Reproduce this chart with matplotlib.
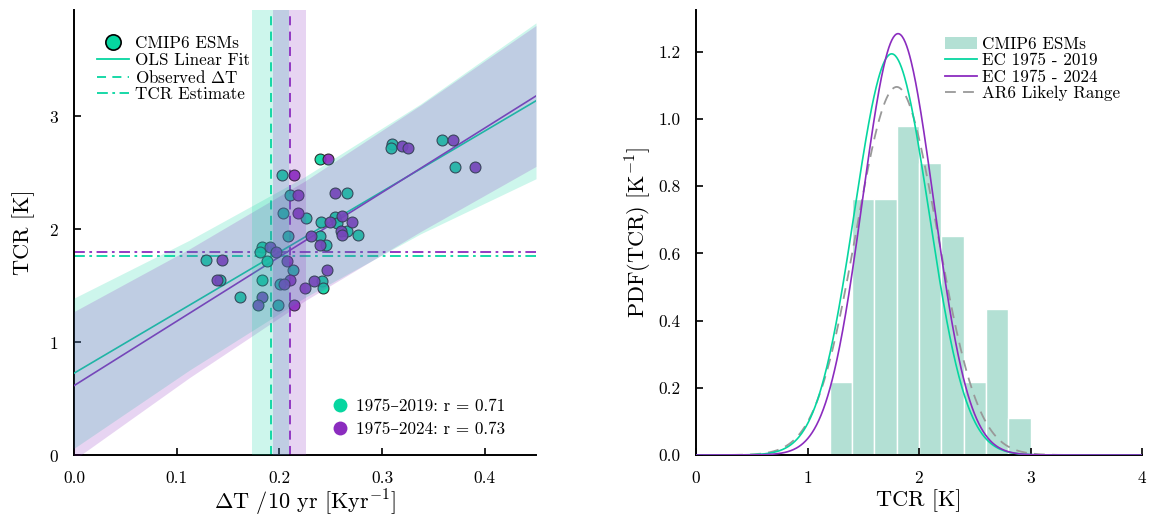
import numpy as np
import matplotlib
matplotlib.use("Agg")
import matplotlib.pyplot as plt
from matplotlib.lines import Line2D
from matplotlib.patches import Patch

plt.rcParams['font.family'] = ['cmr10', 'DejaVu Serif']
plt.rcParams['mathtext.fontset'] = 'cm'
plt.rcParams['axes.formatter.use_mathtext'] = True
plt.rcParams['axes.unicode_minus'] = False

GREEN = "#06d6a0"
PURPLE = "#8b2cbf"
HIST_C = "#b3e0d4"
GRAY = "#999999"

# ---------------- data: left panel (scatter) ----------------
dT_2019 = [0.240, 0.203, 0.310, 0.309, 0.358, 0.371, 0.266, 0.2105, 0.204, 0.226,
           0.241, 0.254, 0.256, 0.266, 0.277, 0.240, 0.208, 0.245, 0.1835, 0.181,
           0.188, 0.129, 0.142, 0.183, 0.2135, 0.201, 0.242, 0.243, 0.162, 0.199]
tcr_2019 = [2.62, 2.48, 2.75, 2.72, 2.79, 2.55, 2.32, 2.30, 2.14, 2.10,
            2.06, 2.11, 2.05, 1.98, 1.95, 1.94, 1.94, 1.86, 1.84, 1.80,
            1.72, 1.73, 1.55, 1.55, 1.64, 1.51, 1.54, 1.48, 1.40, 1.33]

dT_2024 = [0.2476, 0.2144, 0.3194, 0.3255, 0.3687, 0.3902, 0.2547, 0.2186, 0.218, 0.2609,
           0.2489, 0.2706, 0.2599, 0.2615, 0.2307, 0.2398, 0.1913, 0.1969, 0.2079, 0.1446,
           0.1397, 0.2105, 0.2469, 0.205, 0.2342, 0.2251, 0.1835, 0.1797, 0.2138]
tcr_2024 = [2.62, 2.48, 2.74, 2.72, 2.79, 2.55, 2.32, 2.30, 2.14, 2.12,
            2.06, 2.06, 1.98, 1.95, 1.94, 1.86, 1.84, 1.80, 1.72, 1.73,
            1.55, 1.55, 1.64, 1.51, 1.54, 1.48, 1.40, 1.33, 1.33]

# OLS fits (intercept, slope) and prediction band half-widths
fit_2019 = (0.724, 5.36)
fit_2024 = (0.614, 5.70)
band_x = [0.0, 0.1125, 0.225, 0.3375, 0.45]
band_half_2019 = [0.665, 0.575, 0.535, 0.575, 0.69]
band_half_2024 = [0.656, 0.570, 0.530, 0.560, 0.624]

# observed warming rate (centre, half-width) and TCR estimates
obs_dT_2019 = (0.1915, 0.0183)
obs_dT_2024 = (0.2100, 0.0162)
tcr_est_2019 = 1.76
tcr_est_2024 = 1.80

r_2019 = 0.71
r_2024 = 0.73

# ---------------- data: right panel ----------------
bin_edges = [1.2, 1.4, 1.6, 1.8, 2.0, 2.2, 2.4, 2.6, 2.8, 3.0]
bin_counts = [2, 7, 7, 9, 8, 6, 2, 4, 1]
ec_2019 = (1.755, 0.334)   # mean, sd
ec_2024 = (1.812, 0.318)
ar6 = (1.80, 0.364)

# ---------------- figure ----------------
fig = plt.figure(figsize=(11.49, 5.17), dpi=100)
axL = fig.add_axes([74/1149, 62/517, 462/1149, 445/517])
axR = fig.add_axes([696/1149, 62/517, 446/1149, 445/517])

for ax in (axL, axR):
    for s in ('top', 'right'):
        ax.spines[s].set_visible(False)
    for s in ('left', 'bottom'):
        ax.spines[s].set_linewidth(1.4)
    ax.tick_params(direction='in', length=5, width=1.2, labelsize=12.5, pad=11)

DASH = (0, (5, 3.5))
DASHDOT = (0, (6, 2.5, 1.5, 2.5))

# left panel: marks underneath, translucent bands on top
xl = np.array([0.0, 0.45])
for (c, h), col in ((obs_dT_2019, GREEN), (obs_dT_2024, PURPLE)):
    axL.axvline(c, color=col, lw=1.3, ls=DASH, zorder=2)

axL.axhline(tcr_est_2019, color=GREEN, lw=1.3, ls=DASHDOT, zorder=2)
axL.axhline(tcr_est_2024, color=PURPLE, lw=1.3, ls=DASHDOT, zorder=2)

for (a, b), col in ((fit_2019, GREEN), (fit_2024, PURPLE)):
    axL.plot(xl, a + b * xl, color=col, lw=1.2, zorder=3)

axL.scatter(dT_2019, tcr_2019, s=62, color=GREEN, alpha=0.92, edgecolors='#222222', linewidths=0.8, zorder=4)
axL.scatter(dT_2024, tcr_2024, s=62, color=PURPLE, alpha=0.92, edgecolors='#222222', linewidths=0.8, zorder=4)

bx = np.array(band_x)
for (a, b), half, col in ((fit_2019, band_half_2019, GREEN), (fit_2024, band_half_2024, PURPLE)):
    yc = a + b * bx
    axL.fill_between(bx, yc - np.array(half), yc + np.array(half), color=col, alpha=0.2, lw=0, zorder=5)
for (c, h), col in ((obs_dT_2019, GREEN), (obs_dT_2024, PURPLE)):
    axL.axvspan(c - h, c + h, color=col, alpha=0.2, lw=0, zorder=5)

axL.set_xlim(0, 0.45)
axL.set_ylim(0, 3.94)
axL.set_xticks([0.0, 0.1, 0.2, 0.3, 0.4])
axL.set_xticklabels(['0.0', '0.1', '0.2', '0.3', '0.4'])
axL.set_yticks([0, 1, 2, 3])
axL.set_xlabel(r'$\Delta$T /10 yr [Kyr$^{-1}$]', fontsize=16, labelpad=2)
axL.set_ylabel('TCR [K]', fontsize=16, labelpad=10)

h1 = [Line2D([], [], marker='o', ls='none', markersize=11, markerfacecolor=GREEN,
             markeredgecolor='black', markeredgewidth=1.2),
      Line2D([], [], color=GREEN, lw=1.3),
      Line2D([], [], color=GREEN, lw=1.3, ls=DASH),
      Line2D([], [], color=GREEN, lw=1.3, ls=DASHDOT)]
leg1 = axL.legend(h1, ['CMIP6 ESMs', 'OLS Linear Fit', r'Observed $\Delta$T', 'TCR Estimate'],
                  loc='upper left', bbox_to_anchor=(0.0498, 0.9416), frameon=False, fontsize=12.3,
                  handlelength=1.9, handletextpad=0.3, labelspacing=0.06,
                  borderaxespad=0.0, borderpad=0.0)
leg1.set_zorder(10)
axL.add_artist(leg1)

h2 = [Line2D([], [], marker='o', ls='none', markersize=10, markerfacecolor=GREEN, markeredgewidth=0),
      Line2D([], [], marker='o', ls='none', markersize=10, markerfacecolor=PURPLE, markeredgewidth=0)]
leg2 = axL.legend(h2, [f'1975\u20132019: r = {r_2019:.2f}', f'1975\u20132024: r = {r_2024:.2f}'],
                  loc='lower right', bbox_to_anchor=(0.933, 0.040), frameon=False, fontsize=12.3,
                  handlelength=1.0, handletextpad=0.45, labelspacing=0.44,
                  borderaxespad=0.0, borderpad=0.0)
leg2.set_zorder(10)

# right panel
edges = np.array(bin_edges)
counts = np.array(bin_counts)
dens = counts / (counts.sum() * np.diff(edges))
axR.bar(edges[:-1], dens, width=np.diff(edges), align='edge', color=HIST_C,
        edgecolor='white', linewidth=1.0, zorder=1)

xs = np.linspace(0, 4, 600)
def normpdf(x, m, s):
    return np.exp(-0.5 * ((x - m) / s) ** 2) / (s * np.sqrt(2 * np.pi))

axR.plot(xs, normpdf(xs, *ar6), color=GRAY, lw=1.3, ls=(0, (6, 4)), zorder=2)
axR.plot(xs, normpdf(xs, *ec_2019), color=GREEN, lw=1.2, zorder=3)
axR.plot(xs, normpdf(xs, *ec_2024), color=PURPLE, lw=1.2, zorder=3)

axR.set_xlim(0, 4)
axR.set_ylim(0, 1.325)
axR.set_xticks([0, 1, 2, 3, 4])
axR.set_yticks([0.0, 0.2, 0.4, 0.6, 0.8, 1.0, 1.2])
axR.set_yticklabels(['0.0', '0.2', '0.4', '0.6', '0.8', '1.0', '1.2'])
axR.set_xlabel('TCR [K]', fontsize=16, labelpad=2)
axR.set_ylabel(r'PDF(TCR) [K$^{-1}$]', fontsize=16, labelpad=3)

h3 = [Patch(facecolor=HIST_C, edgecolor='none'),
      Line2D([], [], color=GREEN, lw=1.3),
      Line2D([], [], color=PURPLE, lw=1.3),
      Line2D([], [], color=GRAY, lw=1.3, ls=(0, (6, 4)))]
axR.legend(h3, ['CMIP6 ESMs', 'EC 1975 - 2019', 'EC 1975 - 2024', 'AR6 Likely Range'],
           loc='upper right', bbox_to_anchor=(0.978, 0.967), frameon=False, fontsize=12.3,
           handlelength=1.9, handletextpad=0.3, labelspacing=0.06, borderaxespad=0.3)

fig.savefig('out.png', dpi=100)
